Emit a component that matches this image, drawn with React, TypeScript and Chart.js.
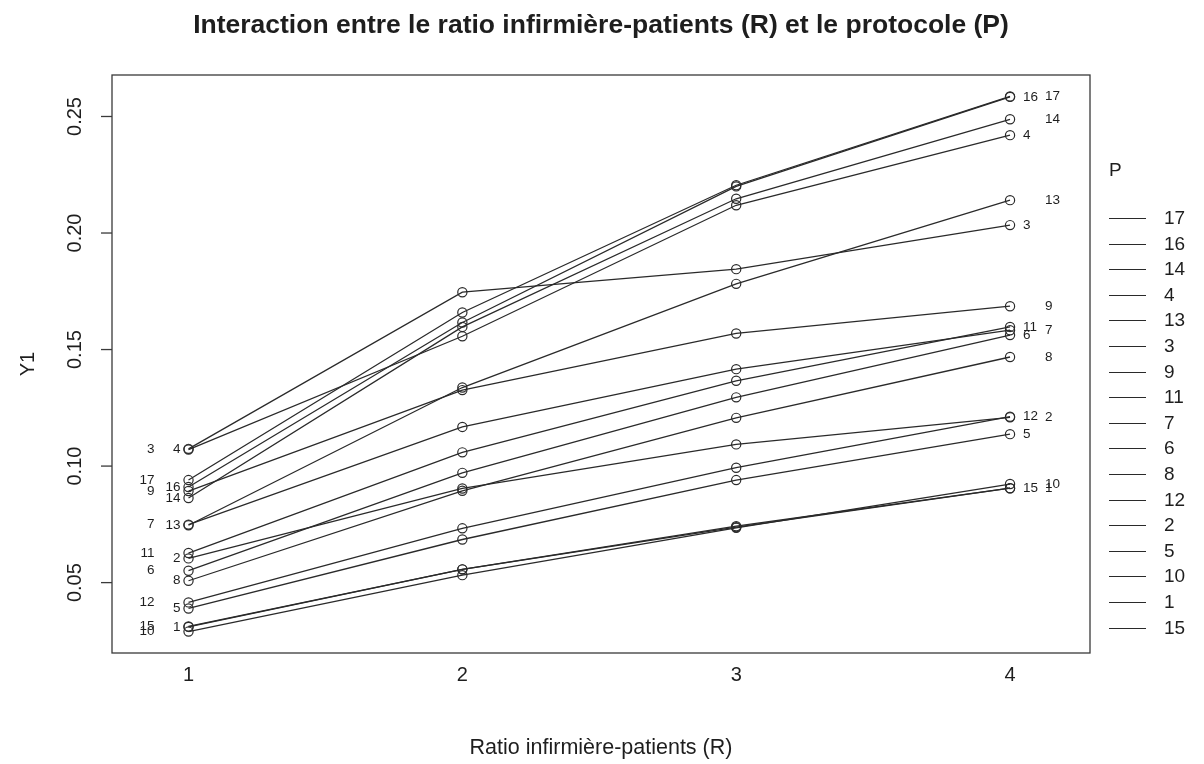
import { useEffect, useRef } from "react";
import { Chart, registerables } from "chart.js";

Chart.register(...registerables);

// Niveaux du ratio infirmière-patients (axe des x)
const ratioLevels = [1, 2, 3, 4];
const xTickLabels = ["1", "2", "3", "4"];
const yTickValues = [0.05, 0.1, 0.15, 0.2, 0.25];
const yTickLabels = ["0.05", "0.10", "0.15", "0.20", "0.25"];

// Protocoles (P) et moyennes de Y1 pour R = 1, 2, 3, 4
const protocols = ["1", "2", "3", "4", "5", "6", "7", "8", "9", "10", "11", "12", "13", "14", "15", "16", "17"];
const p1 = [0.031, 0.0557, 0.0742, 0.0905];
const p2 = [0.0604, 0.0904, 0.1093, 0.1209];
const p3 = [0.1074, 0.1746, 0.1845, 0.2034];
const p4 = [0.1071, 0.1557, 0.2119, 0.242];
const p5 = [0.0389, 0.0685, 0.094, 0.1137];
const p6 = [0.0551, 0.0971, 0.1295, 0.1562];
const p7 = [0.0749, 0.1168, 0.1416, 0.1583];
const p8 = [0.0508, 0.0894, 0.1207, 0.1468];
const p9 = [0.0893, 0.1326, 0.1569, 0.1686];
const p10 = [0.029, 0.0532, 0.0735, 0.0923];
const p11 = [0.0627, 0.1059, 0.1366, 0.1597];
const p12 = [0.0415, 0.0733, 0.0993, 0.1212];
const p13 = [0.0746, 0.1337, 0.1782, 0.2141];
const p14 = [0.0863, 0.1597, 0.2147, 0.2488];
const p15 = [0.0312, 0.0557, 0.0738, 0.0905];
const p16 = [0.091, 0.1616, 0.22, 0.2584];
const p17 = [0.094, 0.1659, 0.2205, 0.2586];
const seriesValues = [p1, p2, p3, p4, p5, p6, p7, p8, p9, p10, p11, p12, p13, p14, p15, p16, p17];

const titleText = "Interaction entre le ratio infirmière-patients (R) et le protocole (P)";
const xTitleText = "Ratio infirmière-patients (R)";
const yTitleText = "Y1";
const legendTitle = "P";

const FONT = "'Liberation Sans', Arial, Helvetica, sans-serif";
const INK = "#1e1e1e";
const LINE = "#2a2a2a";

const annotate = {
  id: "rAnnotate",
  afterDraw(chart: any) {
    const { ctx, chartArea: a, scales } = chart;
    const xs = scales.x;
    const ys = scales.y;
    ctx.save();

    // cadre du graphique
    ctx.strokeStyle = "#3a3a3a";
    ctx.lineWidth = 1.3;
    ctx.strokeRect(a.left, a.top, a.right - a.left, a.bottom - a.top);

    // graduations de l'axe des y, étiquettes verticales
    ctx.fillStyle = INK;
    ctx.font = `20px ${FONT}`;
    yTickValues.forEach((v, i) => {
      const py = ys.getPixelForValue(v);
      ctx.beginPath();
      ctx.moveTo(a.left - 11, py);
      ctx.lineTo(a.left, py);
      ctx.stroke();
      ctx.save();
      ctx.translate(75, py);
      ctx.rotate(-Math.PI / 2);
      ctx.textAlign = "center";
      ctx.textBaseline = "middle";
      ctx.fillText(yTickLabels[i], 0, 0);
      ctx.restore();
    });

    // titre de l'axe des y
    ctx.font = `20px ${FONT}`;
    ctx.save();
    ctx.translate(28, (a.top + a.bottom) / 2);
    ctx.rotate(-Math.PI / 2);
    ctx.textAlign = "center";
    ctx.textBaseline = "middle";
    ctx.fillText(yTitleText, 0, 0);
    ctx.restore();

    // titre principal et titre de l'axe des x
    const cx = (a.left + a.right) / 2;
    ctx.textAlign = "center";
    ctx.textBaseline = "middle";
    ctx.font = `bold 26.5px ${FONT}`;
    ctx.fillText(titleText, cx, 26);
    ctx.font = `21.5px ${FONT}`;
    ctx.fillText(xTitleText, cx, 748);

    // numéros des protocoles aux deux extrémités, en deux colonnes alternées
    ctx.font = `13.5px ${FONT}`;
    const sides = [
      { idx: 0, x: xs.getPixelForValue(ratioLevels[0]), left: true },
      { idx: ratioLevels.length - 1, x: xs.getPixelForValue(ratioLevels[ratioLevels.length - 1]), left: false },
    ];
    sides.forEach((s) => {
      const order = protocols
        .map((_, k) => k)
        .sort((p, q) => {
          const d = seriesValues[q][s.idx] - seriesValues[p][s.idx];
          return d !== 0 ? d : q - p;
        });
      order.forEach((k, rank) => {
        const outer = rank % 2 === 0;
        const py = ys.getPixelForValue(seriesValues[k][s.idx]);
        if (s.left) {
          ctx.textAlign = "right";
          ctx.fillText(protocols[k], s.x + (outer ? -34 : -8), py);
        } else {
          ctx.textAlign = "left";
          ctx.fillText(protocols[k], s.x + (outer ? 35 : 13), py);
        }
      });
    });

    // légende des protocoles, triée par valeur finale décroissante
    const last = ratioLevels.length - 1;
    const legendOrder = protocols
      .map((_, k) => k)
      .sort((p, q) => {
        const d = seriesValues[q][last] - seriesValues[p][last];
        return d !== 0 ? d : p - q;
      });
    ctx.font = `19px ${FONT}`;
    ctx.textAlign = "left";
    ctx.fillText(legendTitle, 1109, 171);
    ctx.strokeStyle = LINE;
    ctx.lineWidth = 1.2;
    legendOrder.forEach((k, i) => {
      const ly = Math.round(218 + i * 25.6);
      ctx.beginPath();
      ctx.moveTo(1109, ly + 0.5);
      ctx.lineTo(1146, ly + 0.5);
      ctx.stroke();
      ctx.fillText(protocols[k], 1164, ly + 0.5);
    });

    ctx.restore();
  },
};

export default function App() {
  const canvasRef = useRef<HTMLCanvasElement | null>(null);

  useEffect(() => {
    const canvas = canvasRef.current;
    if (!canvas) return;

    const datasets = protocols.map((p, k) => ({
      label: p,
      data: ratioLevels.map((r, i) => ({ x: r, y: seriesValues[k][i] })),
      borderColor: LINE,
      borderWidth: 1.3,
      pointRadius: 4.6,
      pointStyle: "circle",
      pointBackgroundColor: "rgba(0,0,0,0)",
      pointBorderColor: LINE,
      pointBorderWidth: 1.2,
      tension: 0,
      fill: false,
    }));

    const chart = new Chart(canvas, {
      type: "line",
      data: { datasets },
      options: {
        animation: false,
        responsive: false,
        devicePixelRatio: 1,
        layout: { padding: { left: 0, top: 75, right: 114, bottom: 0 } },
        plugins: {
          legend: { display: false },
          title: { display: false },
          tooltip: { enabled: false },
        },
        scales: {
          x: {
            type: "linear",
            min: 0.7206,
            max: 4.292,
            grid: { display: false, drawTicks: false },
            border: { display: false },
            afterBuildTicks: (s: any) => {
              s.ticks = ratioLevels.map((v) => ({ value: v }));
            },
            afterFit: (s: any) => {
              s.height = 111;
            },
            ticks: {
              autoSkip: false,
              maxRotation: 0,
              padding: 10,
              color: INK,
              font: { family: FONT, size: 20 },
              callback: (v: any) => xTickLabels[ratioLevels.indexOf(Number(v))] ?? "",
            },
          },
          y: {
            type: "linear",
            min: 0.0198,
            max: 0.2678,
            grid: { display: false, drawTicks: false },
            border: { display: false },
            ticks: { display: false },
            afterFit: (s: any) => {
              s.width = 112;
            },
          },
        },
      },
      plugins: [annotate],
    } as any);

    return () => chart.destroy();
  }, []);

  return (
    <div style={{ position: "absolute", left: 0, top: 0, width: 1204, height: 764, background: "#fff" }}>
      <canvas ref={canvasRef} width={1204} height={764} style={{ display: "block" }} />
    </div>
  );
}
